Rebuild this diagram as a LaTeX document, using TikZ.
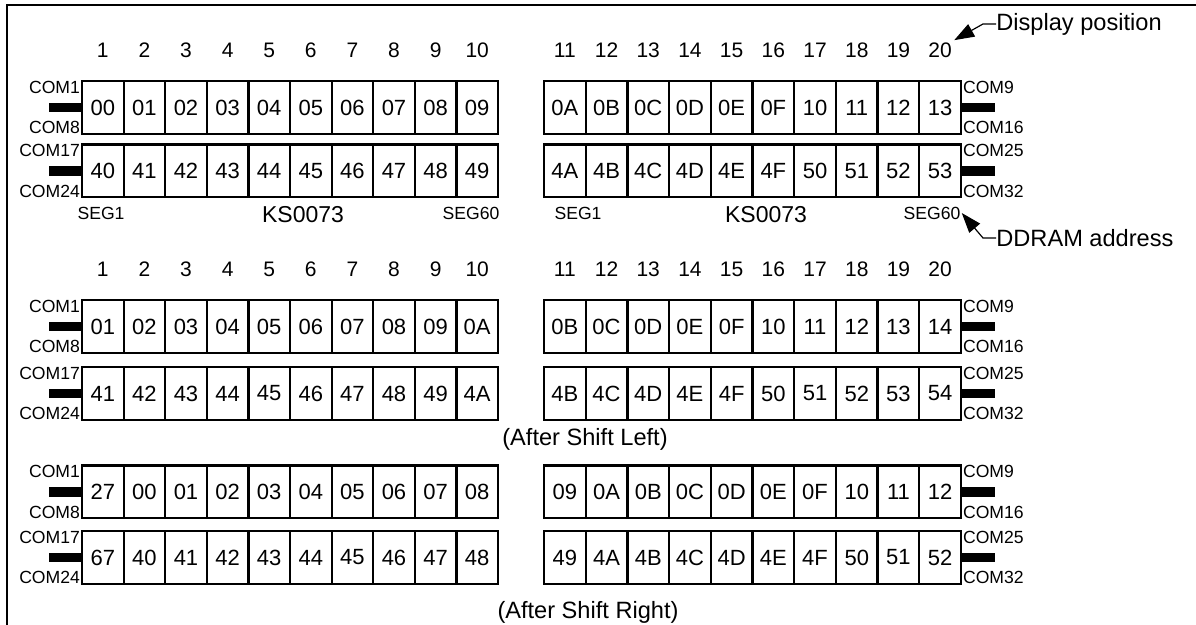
\documentclass[tikz,border=0pt]{standalone}
\usepackage{fontspec}
\setmainfont{Liberation Sans}
\usetikzlibrary{arrows.meta,positioning}

\tikzset{
    cell/.style={draw, line width=1.1pt, minimum width=20.8pt, minimum height=26.4pt,
        inner sep=0pt, font=\fontsize{11}{13}\selectfont},
    num/.style={inner sep=1pt, font=\fontsize{10.5}{12}\selectfont},
    com/.style={inner sep=0.3pt, font=\fontsize{8.8}{10}\selectfont},
    seg/.style={inner sep=0.5pt, font=\fontsize{8.8}{10}\selectfont},
    chip/.style={inner sep=0pt, font=\fontsize{11.5}{13}\selectfont},
    note/.style={inner sep=0pt, font=\fontsize{11.8}{14}\selectfont},
    bar/.style={line width=4.8pt},
    frame/.style={line width=1pt},
    leader/.style={line width=0.6pt, -{Triangle[length=10pt,width=7pt]}}
}

% one row of 20 DDRAM cells: name, y, contents
\newcommand{\cellrow}[3]{%
    \foreach \v [count=\i] in {#3} {
        \pgfmathsetmacro\cx{\i<11 ? 82+41.6*(\i-0.5) : 544+41.7*(\i-10.5)}
        \node[cell] (#1-\i) at (\cx,#2) {\v};
    }
}
% COM labels and driver bars of a row
\newcommand{\comside}[5]{%
    \node[com, anchor=north east] (#1-ct) at (#1-1.north west) {#2};
    \node[com, anchor=south east] (#1-cb) at (#1-1.south west) {#3};
    \node[com, anchor=north west] (#1-dt) at (#1-20.north east) {#4};
    \node[com, anchor=south west] (#1-db) at (#1-20.south east) {#5};
    \draw[bar] (#1-1.west) -- ++(-32,0);
    \draw[bar] (#1-20.east) -- ++(33,0);
}
% display position numbers
\newcommand{\posrow}[2]{%
    \foreach \i in {1,...,20} {
        \pgfmathsetmacro\cx{\i<11 ? 82+41.6*(\i-0.5) : 544+41.7*(\i-10.5)}
        \node[num] (#1\i) at (\cx,#2) {\i};
    }
}

\begin{document}
\begin{tikzpicture}[x=0.5pt, y=-0.5pt]
    \useasboundingbox (0,0) rectangle (1196,625);
    \draw[frame] (7,625) -- (7,5.5) -- (1196,5.5);

    % normal display
    \posrow{n}{50}
    \cellrow{d1}{107.5}{00,01,02,03,04,05,06,07,08,09,0A,0B,0C,0D,0E,0F,10,11,12,13}
    \cellrow{d2}{171}{40,41,42,43,44,45,46,47,48,49,4A,4B,4C,4D,4E,4F,50,51,52,53}
    \comside{d1}{COM1}{COM8}{COM9}{COM16}
    \comside{d2}{COM17}{COM24}{COM25}{COM32}

    \node[seg] (seg1a) at (101,213) {SEG1};
    \node[chip] (chipa) at (303,215) {KS0073};
    \node[seg] (seg60a) at (471,213) {SEG60};
    \node[seg] (seg1b) at (578,213) {SEG1};
    \node[chip] (chipb) at (766,215) {KS0073};
    \node[seg] (seg60b) at (932,213) {SEG60};

    \node[note, anchor=west] (disp) at (996,24) {Display position};
    \node[note, anchor=west] (ddram) at (996,238) {DDRAM address};
    \draw[leader] (disp.west) -- ++(-13,0) -- (n20.north east);
    \draw[leader] (ddram.west) -- ++(-13,0) -- (seg60b.east);

    % after shift left
    \posrow{m}{269}
    \cellrow{l1}{326.5}{01,02,03,04,05,06,07,08,09,0A,0B,0C,0D,0E,0F,10,11,12,13,14}
    \cellrow{l2}{393.5}{41,42,43,44,45,46,47,48,49,4A,4B,4C,4D,4E,4F,50,51,52,53,54}
    \comside{l1}{COM1}{COM8}{COM9}{COM16}
    \comside{l2}{COM17}{COM24}{COM25}{COM32}
    \node[note] (shl) at (585,439) {(After Shift Left)};

    % after shift right
    \cellrow{r1}{492}{27,00,01,02,03,04,05,06,07,08,09,0A,0B,0C,0D,0E,0F,10,11,12}
    \cellrow{r2}{557.5}{67,40,41,42,43,44,45,46,47,48,49,4A,4B,4C,4D,4E,4F,50,51,52}
    \comside{r1}{COM1}{COM8}{COM9}{COM16}
    \comside{r2}{COM17}{COM24}{COM25}{COM32}
    \node[note] (shr) at (588,612) {(After Shift Right)};
\end{tikzpicture}
\end{document}
